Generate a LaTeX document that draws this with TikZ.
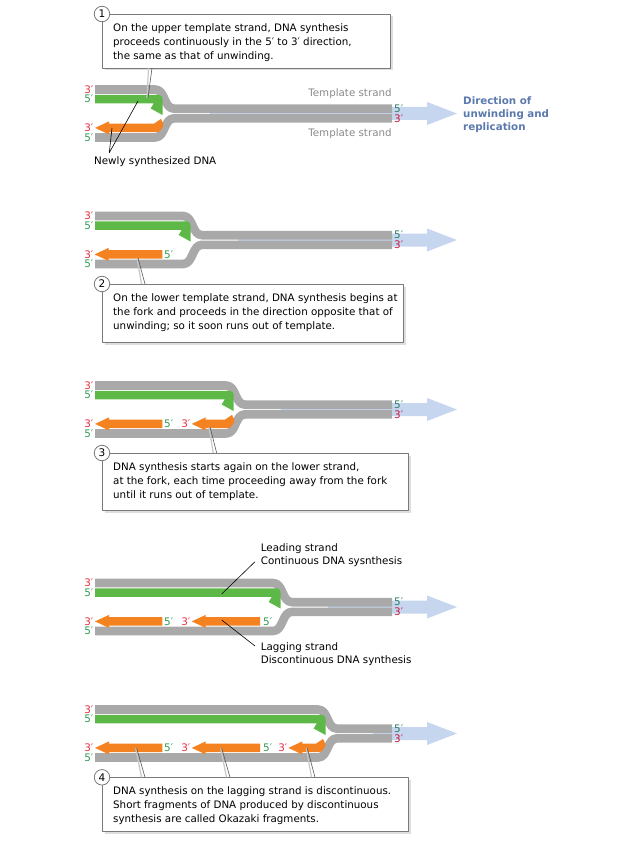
\documentclass[tikz,border=0pt]{standalone}
\usepackage{fontspec}
\setmainfont{DejaVu Sans}
\usetikzlibrary{arrows.meta,calc,positioning}
\definecolor{tplgrey}{HTML}{A9A9A9}
\definecolor{tpltext}{HTML}{8A8A8A}
\definecolor{leadgreen}{HTML}{5DB847}
\definecolor{lagorange}{HTML}{F58220}
\definecolor{endred}{HTML}{E8303F}
\definecolor{endgreen}{HTML}{2E9A55}
\definecolor{endteal}{HTML}{2A7D66}
\definecolor{endcrimson}{HTML}{C4183C}
\definecolor{dirblue}{HTML}{C6D6EE}
\definecolor{dirtext}{HTML}{5B79AD}
\definecolor{boxgrey}{HTML}{7A7A7A}
\tikzset{
  every picture/.append style={line join=round},
  fork template/.style={draw=tplgrey,line width=8.6pt},
  fork leading/.style={fill=leadgreen},
  fork lagging/.style={fill=lagorange},
  fork direction/.style={fill=dirblue},
  fork end/.style={font=\fontsize{10.4}{12}\selectfont,inner sep=0pt},
  fork label/.style={font=\fontsize{10.3}{13.4}\selectfont,inner sep=0pt,align=left},
  fork box/.style={draw=boxgrey,fill=white,line width=0.7pt},
  fork box shade/.style={fill=black!13},
  fork number/.style={circle,draw=boxgrey,fill=white,line width=0.8pt,minimum size=15.5pt,inner sep=0pt,font=\fontsize{10.5}{12}\selectfont},
  fork note/.style={font=\fontsize{10.3}{14.1}\selectfont,align=left,inner sep=0pt,anchor=north west},
  fork pointer/.style={draw=black!65,line width=0.6pt},
  fork pointer shade/.style={draw=black!22,line width=1.2pt},
  fork leader/.style={draw=black,line width=0.6pt}
}
% #1 = level of the upper template, #2 = x where the fork opens
\newcommand{\forkbase}[2]{%
  \pgfmathsetmacro\lvA{#1}\pgfmathsetmacro\lvB{#1+9.6}%
  \pgfmathsetmacro\lvC{#1+19.2}\pgfmathsetmacro\lvD{#1+28.8}%
  \pgfmathsetmacro\lvE{#1+38.4}\pgfmathsetmacro\lvF{#1+48}%
  \pgfmathsetmacro\lvM{#1+24}\pgfmathsetmacro\xfB{#2+19.2}%
  \pgfmathsetmacro\xtip{#2+7.7}%
  \fill[fork direction] ({#2+55},{\lvM-6.5}) -- (427,{\lvM-6.5}) -- (427,{\lvM-11.5})
    -- (457,\lvM) -- (427,{\lvM+11.5}) -- (427,{\lvM+6.5}) -- ({#2+55},{\lvM+6.5}) -- cycle;
  \draw[fork template] (95,\lvA) -- (#2,\lvA) to[out=0,in=180] (\xfB,\lvC) -- (392,\lvC);
  \draw[fork template] (95,\lvF) -- (#2,\lvF) to[out=0,in=180] (\xfB,\lvD) -- (392,\lvD);
  \fill[fork leading] (95,{\lvB-4.3}) [rounded corners=4pt] -- (\xtip,{\lvB-4.3})
    [sharp corners] -- (\xtip,{\lvB+16}) -- ({\xtip-12},{\lvB+9.4}) -- ({\xtip-9},{\lvB+4.3})
    -- (95,{\lvB+4.3}) -- cycle;
  \node[fork end,text=endred,anchor=east] at (93.5,\lvA) {3′};
  \node[fork end,text=endgreen,anchor=east] at (93.5,\lvB) {5′};
  \node[fork end,text=endred,anchor=east] at (93.5,\lvE) {3′};
  \node[fork end,text=endgreen,anchor=east] at (93.5,\lvF) {5′};
  \node[fork end,text=endteal,anchor=west] at (394,\lvC) {5′};
  \node[fork end,text=endcrimson,anchor=west] at (394,\lvD) {3′};
}
% Okazaki fragment, #1 = tip x, #2 = 5' end x
\newcommand{\lagfrag}[2]{%
  \fill[fork lagging] (#1,\lvE) -- ({#1+14},{\lvE-6.5}) -- ({#1+14},{\lvE-4.3}) -- (#2,{\lvE-4.3})
    -- (#2,{\lvE+4.3}) -- ({#1+14},{\lvE+4.3}) -- ({#1+14},{\lvE+6.5}) -- cycle;
}
% fragment still growing at the fork
\newcommand{\lagforkfrag}[2]{%
  \fill[fork lagging] (#1,\lvE) -- ({#1+14},{\lvE-6.5}) -- ({#1+14},{\lvE-4.3}) -- ({#2-9},{\lvE-4.3})
    -- ({#2-2},{\lvE-9}) [rounded corners=1.5pt] -- ({#2+1},{\lvE-2.5})
    -- ({#2-4},{\lvE+4.3}) [sharp corners] -- ({#1+14},{\lvE+4.3}) -- ({#1+14},{\lvE+6.5}) -- cycle;
}
% #1 name, #2 number, #3 x1, #4 y1, #5 x2, #6 y2, #7 text
\newcommand{\forknote}[7]{%
  \fill[fork box shade] ({#3+2.5},{#4+2.5}) rectangle ({#5+2.5},{#6+2.5});
  \draw[fork box] (#3,#4) rectangle (#5,#6);
  \node[fork number] (#1) at (#3,#4) {#2};
  \node[fork note] (#1-text) at (113,{#4+9.3}) {#7};
}
\newcommand{\forkpointer}[3]{%
  \coordinate (#1-tip) at #2;
  \coordinate (#1-base) at #3;
  \draw[fork pointer shade] ($(#1-tip)+(-1,0)$) -- ($(#1-base)+(-3.5,0)$);
  \draw[fork pointer] (#1-tip) -- (#1-base);
}

\begin{document}
\begin{tikzpicture}[x=1pt,y=-1pt]
  \useasboundingbox (0,0) rectangle (627,842);

  % 1: leading strand follows the fork
  \forkbase{89.5}{155}
  \lagforkfrag{95}{163}
  \forknote{n1}{1}{102}{14}{390}{68}{On the upper template strand, DNA synthesis\\
    proceeds continuously in the 5′ to 3′ direction,\\the same as that of unwinding.}
  \forkpointer{n1}{(148,98)}{(152,68)}
  \node[fork label,text=tpltext] (tpl-up) at (350,93.3) {Template strand};
  \node[fork label,text=tpltext] (tpl-low) at (350,133.3) {Template strand};
  \node[fork label,font=\fontsize{10.3}{13.2}\selectfont\bfseries,text=dirtext,anchor=west]
    (direction) at (463,114.5) {Direction of\\unwinding and\\replication};
  \node[fork label,anchor=west] (newdna) at (94,161.7) {Newly synthesized DNA};
  \coordinate (newdna-fork) at (109.3,152.7);
  \coordinate (newdna-lead) at (138,101);
  \coordinate (newdna-lag) at (112,128);
  \draw[fork leader] (newdna-lead) -- (newdna-fork) -- (newdna-lag);

  % 2: lower strand runs out of template
  \forkbase{216}{183}
  \lagfrag{94.5}{162.3}
  \node[fork end,text=endgreen,anchor=west] at (164,\lvE) {5′};
  \forknote{n2}{2}{102}{284}{403}{342}{On the lower template strand, DNA synthesis begins at\\
    the fork and proceeds in the direction opposite that of\\unwinding; so it soon runs out of template.}
  \forkpointer{n2}{(138,258)}{(145,284)}

  % 3: a new fragment starts at the fork
  \forkbase{385.5}{226}
  \lagfrag{95}{162.3}
  \lagforkfrag{191.7}{234}
  \node[fork end,text=endgreen,anchor=west] at (164,\lvE) {5′};
  \node[fork end,text=endred,anchor=east] at (190.5,\lvE) {3′};
  \forknote{n3}{3}{102}{453}{408}{510.5}{DNA synthesis starts again on the lower strand,\\
    at the fork, each time proceeding away from the fork\\until it runs out of template.}
  \forkpointer{n3}{(210,427)}{(216.7,453)}

  % leading and lagging
  \forkbase{583}{273}
  \lagfrag{95}{162.3}
  \lagfrag{191.7}{260}
  \node[fork end,text=endgreen,anchor=west] at (164,\lvE) {5′};
  \node[fork end,text=endred,anchor=east] at (190.5,\lvE) {3′};
  \node[fork end,text=endgreen,anchor=west] at (263,\lvE) {5′};
  \node[fork label,anchor=west] (lead-text) at (260.7,555) {Leading strand\\Continuous DNA sysnthesis};
  \node[fork label,anchor=west] (lag-text) at (260.7,653.9) {Lagging strand\\Discontinuous DNA synthesis};
  \coordinate (lead-end) at (255,561.7);
  \coordinate (lead-strand) at (221.7,594);
  \coordinate (lag-end) at (255,646);
  \coordinate (lag-strand) at (221.7,620);
  \draw[fork leader] (lead-end) -- (lead-strand);
  \draw[fork leader] (lag-end) -- (lag-strand);

  % 4: Okazaki fragments
  \forkbase{709.5}{318}
  \lagfrag{95}{162.3}
  \lagfrag{191.7}{260}
  \lagforkfrag{288.3}{325}
  \node[fork end,text=endgreen,anchor=west] at (164,\lvE) {5′};
  \node[fork end,text=endred,anchor=east] at (190.5,\lvE) {3′};
  \node[fork end,text=endgreen,anchor=west] at (263,\lvE) {5′};
  \node[fork end,text=endred,anchor=east] at (287.5,\lvE) {3′};
  \forknote{n4}{4}{102}{777.3}{408}{831.7}{DNA synthesis on the lagging strand is discontinuous.\\
    Short fragments of DNA produced by discontinuous\\synthesis are called Okazaki fragments.}
  \forkpointer{n4a}{(136.7,748.3)}{(145,777.3)}
  \forkpointer{n4b}{(221.7,748.3)}{(230,777.3)}
  \forkpointer{n4c}{(307.3,748.3)}{(315,777.3)}
\end{tikzpicture}
\end{document}
